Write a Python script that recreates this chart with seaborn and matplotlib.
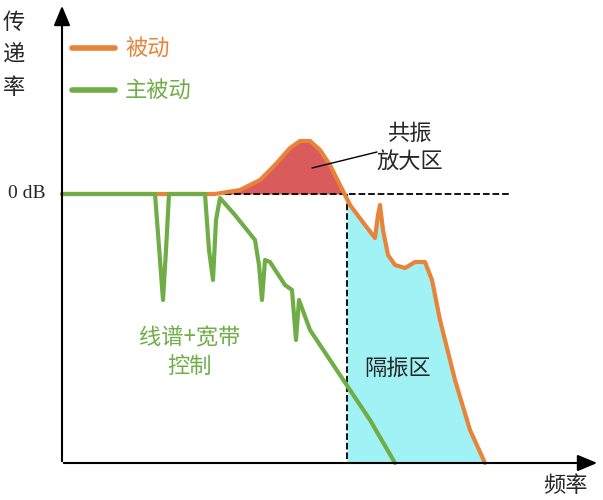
import matplotlib
matplotlib.use("Agg")
import matplotlib.pyplot as plt
import seaborn as sns
import numpy as np

sns.set_style("white")
plt.rcParams['font.family'] = ['Noto Sans CJK SC', 'DejaVu Sans']

# schematic curves (pixel-like coordinates, y measured downward)
passive_x = [62, 215, 240, 260, 275, 290, 300, 310, 320, 330, 340, 350, 365, 375, 378, 380, 383, 388, 395, 405, 415, 425, 432, 440, 455, 470, 485]
passive_y = [194, 194, 190, 180, 165, 148, 141, 141, 150, 165, 185, 205, 225, 238, 215, 205, 230, 255, 265, 268, 262, 262, 280, 320, 380, 430, 463]
active_x = [62, 155, 160, 163, 166, 169, 205, 209, 213, 216, 220, 235, 255, 259, 262, 265, 270, 285, 292, 296, 299, 310, 330, 350, 370, 395]
active_y = [194, 194, 260, 300, 250, 194, 194, 250, 280, 220, 198, 215, 240, 265, 300, 260, 262, 285, 290, 340, 300, 330, 360, 390, 420, 463]
zero_db = 194
iso_start = 347

fig = plt.figure(figsize=(6.03, 5), dpi=100)
ax = fig.add_axes([0, 0, 1, 1])
ax.set_xlim(0, 603)
ax.set_ylim(500, 0)
ax.axis('off')

px = np.array(passive_x, float); py = np.array(passive_y, float)
xx = np.linspace(62, 485, 800)
yy = np.interp(xx, px, py)
ax.fill_between(xx, yy, zero_db, where=(yy < zero_db) & (xx > 200) & (xx < iso_start), color='#D95B5B', lw=0)
ax.fill_between(xx, yy, 463, where=xx >= iso_start, color='#A0F2F5', lw=0)

ax.plot([215, 510], [zero_db, zero_db], ls='--', color='black', lw=1.3)
ax.plot([iso_start, iso_start], [zero_db, 463], ls='--', color='black', lw=1.3)

sns.lineplot(x=passive_x, y=passive_y, sort=False, color='#E8833A', lw=3, ax=ax, estimator=None)
sns.lineplot(x=active_x, y=active_y, sort=False, color='#70AD47', lw=3, ax=ax, estimator=None)

# axes arrows
ax.annotate('', xy=(62, 3), xytext=(62, 464), arrowprops=dict(arrowstyle='-|>,head_width=0.5,head_length=1.2', color='black', lw=1.5))
ax.annotate('', xy=(600, 463), xytext=(61, 463), arrowprops=dict(arrowstyle='-|>,head_width=0.5,head_length=1.2', color='black', lw=1.5))

fs = 16
for i, ch in enumerate("传递率"):
    ax.text(14, 22 + i * 33, ch, fontsize=fs, ha='center', va='center')
ax.text(8, 194, "0 dB", fontsize=14, ha='left', va='center', family=['Liberation Serif', 'DejaVu Serif'])
ax.text(565, 485, "频率", fontsize=fs, ha='center', va='center')

ax.plot([72, 115], [48, 48], color='#E8833A', lw=4)
ax.text(125, 48, "被动", fontsize=fs, color='#E8833A', va='center')
ax.plot([72, 115], [90, 90], color='#70AD47', lw=4)
ax.text(125, 90, "主被动", fontsize=fs, color='#70AD47', va='center')

ax.text(410, 148, "共振\n放大区", fontsize=fs, ha='center', va='center', linespacing=1.3)
ax.plot([377, 312], [152, 168], color='black', lw=1)
ax.text(398, 368, "隔振区", fontsize=fs, ha='center', va='center')
ax.text(190, 352, "线谱+宽带\n控制", fontsize=fs, ha='center', va='center', color='#70AD47', linespacing=1.3)

fig.savefig("out.png", dpi=100)
